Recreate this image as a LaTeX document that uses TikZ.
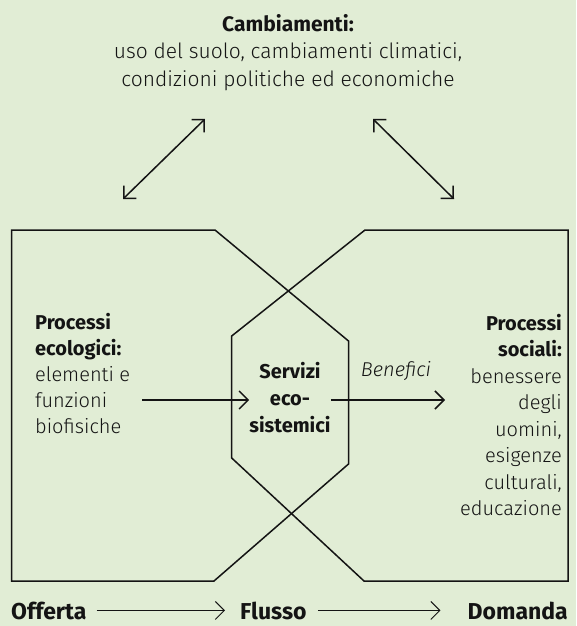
\documentclass[tikz,border=0pt]{standalone}
\usepackage{fontspec}
\setmainfont{Fira Sans}[UprightFont=* Light, ItalicFont=* Light Italic, BoldFont=* Bold]
\usetikzlibrary{arrows.meta}
\definecolor{bg}{RGB}{225,237,213}
\definecolor{ink}{RGB}{20,20,20}
\begin{document}
\begin{tikzpicture}[x=1pt,y=-1pt,
  shape line/.style={draw=ink, line width=1.5pt, line join=miter},
  arr/.style={draw=ink, line width=1.5pt, -{Straight Barb[length=9pt,width=18pt]}},
  thin arr/.style={draw=ink, line width=1pt, -{Straight Barb[length=9pt,width=18pt]}},
  biarr/.style={draw=ink, line width=1.5pt, {Straight Barb[length=9pt,width=18pt]}-{Straight Barb[length=9pt,width=18pt]}},
  txt/.style={inner sep=0pt, text=ink, font=\fontsize{20}{26}\selectfont},
  title/.style={inner sep=0pt, text=ink, align=center, font=\fontsize{21}{27.5}\selectfont},
  bottom/.style={inner sep=0pt, text=ink, font=\fontsize{23}{28}\selectfont\bfseries},
]
\fill[bg] (0,0) rectangle (576,626);
\useasboundingbox (0,0) rectangle (576,626);

% title
\node[title, anchor=north] (chg) at (288,14)
  {\textbf{Cambiamenti:}\\uso del suolo, cambiamenti climatici,\\condizioni politiche ed economiche};

% double arrows
\coordinate (la1) at (205,119);
\coordinate (la2) at (123,199);
\coordinate (ra1) at (373,119);
\coordinate (ra2) at (454,199);
\draw[biarr] (la1) -- (la2);
\draw[biarr] (ra1) -- (ra2);

% shapes
\draw[shape line] (11.7,230) -- (215,230) -- (348.5,341) -- (348.5,464) -- (214,581) -- (11.7,581) -- cycle;
\draw[shape line] (568,230) -- (365,230) -- (231.7,336) -- (231.7,458) -- (364,581) -- (568,581) -- cycle;

% texts
\node[txt, align=left, anchor=north west] (eco) at (35,313)
  {\textbf{Processi}\\\textbf{ecologici:}\\elementi e\\funzioni\\biofisiche};
\node[txt, align=right, anchor=north east, font=\fontsize{20}{26.5}\selectfont] (soc) at (562,314)
  {\textbf{Processi}\\\textbf{sociali:}\\benessere\\degli\\uomini,\\esigenze\\culturali,\\educazione};
\node[txt, align=center, anchor=north, font=\fontsize{20}{27}\selectfont\bfseries] (serv) at (290,362)
  {Servizi\\eco-\\sistemici};
\node[txt, anchor=base, font=\fontsize{20}{26}\selectfont\itshape] (ben) at (396,376) {Benefici};

% inner arrows
\coordinate (ia1) at (142,400);
\coordinate (ia2) at (445,400);
\draw[arr] (ia1) -- (ia1 -| serv.west);
\draw[arr] (ia2 -| serv.east) -- (ia2);

% bottom row
\node[bottom, anchor=base west] (off) at (11,619) {Offerta};
\node[bottom, anchor=base west] (flu) at (240,619) {Flusso};
\node[bottom, anchor=base east] (dom) at (568,619) {Domanda};
\draw[thin arr, shorten <=10pt, shorten >=15pt] (off.east) -- (flu.west);
\draw[thin arr, shorten <=11pt, shorten >=27pt] (flu.east) -- (dom.west);
\end{tikzpicture}
\end{document}
